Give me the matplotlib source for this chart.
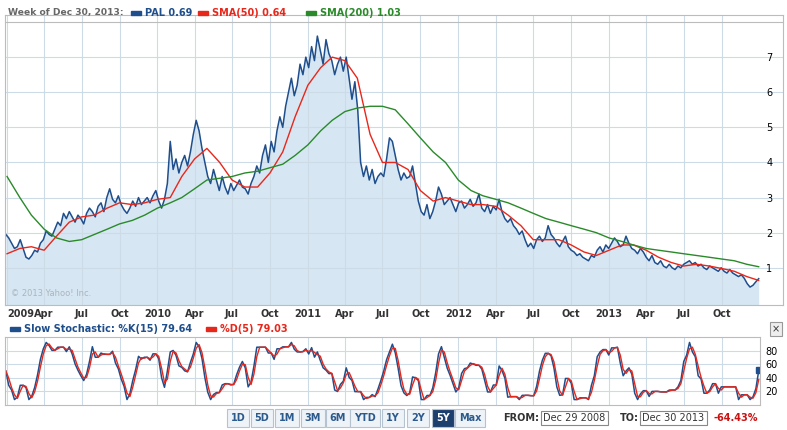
import matplotlib
matplotlib.use("Agg")
import matplotlib.pyplot as plt
import numpy as np
import pandas as pd

# weekly closes, Dec 29 2008 .. Dec 2013
price = [
    1.95, 1.85, 1.70, 1.55, 1.60, 1.80, 1.55, 1.30, 1.25, 1.35, 1.50, 1.45, 1.70,
    1.80, 2.05, 1.95, 1.90, 2.10, 2.30, 2.20, 2.55, 2.40, 2.60, 2.45, 2.30, 2.50,
    2.40, 2.25, 2.55, 2.70, 2.60, 2.45, 2.75, 2.85, 2.60, 3.00, 3.25, 2.95, 2.85,
    3.05, 2.80, 2.65, 2.55, 2.70, 2.90, 2.75, 3.00, 2.80, 2.90, 3.00, 2.85, 3.05,
    3.20, 2.90, 2.70, 2.95, 3.40, 4.60, 3.80, 4.10, 3.70, 4.00, 4.20, 3.90, 4.30,
    4.80, 5.20, 4.90, 4.40, 4.00, 3.60, 3.40, 3.80, 3.50, 3.20, 3.60, 3.30, 3.10,
    3.40, 3.20, 3.35, 3.50, 3.30, 3.25, 3.10, 3.40, 3.60, 3.90, 3.70, 4.20, 4.50,
    4.00, 4.60, 4.30, 4.90, 5.30, 5.00, 5.60, 6.00, 6.40, 5.90, 6.20, 6.80, 6.50,
    7.00, 6.70, 7.30, 6.90, 7.60, 7.20, 6.80, 7.50, 7.10, 6.90, 6.50, 6.80, 7.00,
    6.60, 7.00, 6.40, 5.80, 6.30, 5.50, 4.00, 3.60, 3.90, 3.50, 3.80, 3.40, 3.60, 3.70,
    3.60, 4.10, 4.70, 4.60, 4.20, 3.80, 3.50, 3.70, 3.55, 3.60, 3.90, 3.40, 2.90, 2.60,
    2.50, 2.80, 2.40, 2.60, 2.90, 3.30, 3.10, 2.80, 2.90, 3.00, 2.80, 2.60, 2.85,
    2.90, 2.70, 2.80, 2.95, 2.75, 2.85, 3.10, 2.70, 2.60, 2.80, 2.55, 2.75, 2.65,
    2.95, 2.60, 2.40, 2.30, 2.40, 2.20, 2.10, 1.95, 2.05, 1.80, 1.60, 1.70, 1.55,
    1.80, 1.90, 1.75, 1.85, 2.20, 1.95, 1.85, 1.70, 1.60, 1.75, 1.90, 1.60, 1.50,
    1.45, 1.35, 1.40, 1.30, 1.25, 1.20, 1.35, 1.30, 1.50, 1.60, 1.45, 1.65, 1.55,
    1.70, 1.85, 1.75, 1.60, 1.65, 1.90, 1.70, 1.55, 1.50, 1.40, 1.55, 1.45,
    1.30, 1.20, 1.35, 1.15, 1.10, 1.20, 1.05, 1.00, 1.10, 1.00, 0.95, 1.05, 1.00,
    1.10, 1.15, 1.20, 1.10, 1.15, 1.05, 1.10, 1.00, 0.95, 1.05, 1.00, 0.95, 0.90,
    1.00, 0.90, 0.85, 0.95, 0.85, 0.80, 0.75, 0.80, 0.70, 0.55, 0.45, 0.50, 0.60, 0.69,
]

# monthly readings of the moving averages (plus last point)
sma50 = [1.40, 1.55, 1.60, 1.50, 1.90, 2.30, 2.45, 2.50, 2.70, 2.85, 2.80, 2.85,
         2.95, 3.00, 3.60, 4.10, 4.40, 4.00, 3.50, 3.30, 3.30, 3.70, 4.30, 5.30,
         6.20, 6.70, 7.00, 6.90, 6.40, 4.80, 4.00, 4.00, 3.80, 3.20, 2.90, 3.00,
         2.90, 2.80, 2.80, 2.75, 2.50, 2.20, 1.80, 1.80, 1.80, 1.65, 1.45, 1.35,
         1.50, 1.65, 1.65, 1.50, 1.30, 1.15, 1.05, 1.10, 1.05, 0.98, 0.90, 0.75, 0.64]
sma200 = [3.60, 3.00, 2.50, 2.10, 1.85, 1.75, 1.80, 1.95, 2.10, 2.25, 2.35, 2.50,
          2.70, 2.85, 3.00, 3.25, 3.50, 3.55, 3.60, 3.70, 3.75, 3.85, 3.95, 4.20,
          4.50, 4.90, 5.20, 5.45, 5.55, 5.60, 5.60, 5.50, 5.10, 4.70, 4.30, 4.00,
          3.50, 3.20, 3.05, 2.95, 2.85, 2.70, 2.55, 2.40, 2.30, 2.20, 2.10, 2.00,
          1.85, 1.75, 1.65, 1.55, 1.50, 1.45, 1.40, 1.35, 1.30, 1.25, 1.20, 1.10, 1.03]

BLUE = "#1f4e8c"
RED = "#e8271b"
GREEN = "#2a8a2a"
GRID = "#cddbe7"

dates = pd.date_range("2008-12-29", periods=len(price), freq="W-MON")
mdates_ = list(pd.date_range("2009-01-01", periods=60, freq="MS")) + [pd.Timestamp("2013-12-30")]
p = np.array(price)

# slow stochastic from closes (short window, weekly data)
n = len(p)
fast = np.zeros(n)
for i in range(n):
    w = p[max(0, i - 5):i + 1]
    rng = w.max() - w.min()
    fast[i] = 50 if rng == 0 else (p[i] - w.min()) / rng * 100
k = pd.Series(fast).rolling(3, min_periods=1).mean().values
k = 8 + k * 0.84
d = pd.Series(k).rolling(2, min_periods=1).mean().values

W, H = 787, 430
fig = plt.figure(figsize=(W / 100, H / 100), dpi=100)
plt.rcParams["font.family"] = "DejaVu Sans"
FS = 7

x0 = dates[0] - pd.Timedelta(days=2)
x1 = dates[-1] + pd.Timedelta(days=7 * 8 + 3)

ax = fig.add_axes([5 / W, 1 - 305 / H, 778 / W, 290 / H])
ax.fill_between(dates, p, -1, color="#d6e7f3", lw=0)
ax.plot(dates, p, color=BLUE, lw=1.1)
ax.plot(mdates_, sma50, color=RED, lw=1)
ax.plot(mdates_, sma200, color=GREEN, lw=1)
ax.set_xlim(x0, x1)
ax.set_ylim(-0.06, 8.2)
qticks = pd.date_range("2009-01-01", "2013-10-01", freq="QS")
ax.set_xticks(qticks)
ax.set_xticklabels([str(t.year) if t.month == 1 else t.strftime("%b") for t in qticks],
                   fontsize=FS, fontweight="bold", color="#333333")
ax.get_xticklabels()[0].set_ha("left")
ax.set_yticks(range(1, 8))
ax.yaxis.tick_right()
ax.tick_params(axis="y", direction="in", pad=-12, labelsize=FS, length=0)
ax.tick_params(axis="x", length=0, pad=3)
ax.grid(True, color=GRID, lw=0.8)
for s in ax.spines.values():
    s.set_color("#bcbcbc")
ax.text(0.008, 0.03, "\u00a9 2013 Yahoo! Inc.", transform=ax.transAxes, fontsize=6, color="#aab4bd")

# stochastic panel
ax2 = fig.add_axes([5 / W, 1 - 405 / H, 755 / W, 68 / H])
ax2.plot(dates, k, color=BLUE, lw=1.1)
ax2.plot(dates, d, color=RED, lw=1)
ax2.plot(dates[-1], k[-1], "s", color=BLUE, ms=4)
ax2.set_xlim(x0, dates[-1] + pd.Timedelta(days=3))
ax2.set_ylim(0, 100)
ax2.set_xticks(qticks)
ax2.set_xticklabels([])
ax2.set_yticks([20, 40, 60, 80])
ax2.yaxis.tick_right()
ax2.tick_params(length=0, labelsize=FS, pad=4)
ax2.grid(True, color=GRID, lw=0.8)
for s in ax2.spines.values():
    s.set_color("#bcbcbc")


def fx(x):
    return x / W


def fy(y):
    return 1 - y / H


# header legend
fig.text(fx(8), fy(13), "Week of Dec 30, 2013:", fontsize=6.6, fontweight="bold", color="#666666", va="center")
for xx, label, col in [(131, "PAL 0.69", BLUE), (198, "SMA(50) 0.64", RED), (306, "SMA(200) 1.03", GREEN)]:
    fig.patches.append(plt.Rectangle((fx(xx), fy(15)), 10 / W, 4 / H, color=col, transform=fig.transFigure))
    fig.text(fx(xx + 14), fy(13), label, fontsize=FS, fontweight="bold", color=col, va="center")
fig.add_artist(plt.Line2D([fx(5), fx(783)], [fy(22), fy(22)], color="#bcbcbc", lw=0.8))

for xx, label, col in [(10, "Slow Stochastic: %K(15) 79.64", BLUE), (206, "%D(5) 79.03", RED)]:
    fig.patches.append(plt.Rectangle((fx(xx), fy(331)), 10 / W, 4 / H, color=col, transform=fig.transFigure))
    fig.text(fx(xx + 14), fy(329), label, fontsize=FS, fontweight="bold", color=col, va="center")
fig.text(fx(776), fy(329), "\u00d7", fontsize=FS, ha="center", va="center", color="#333333",
         bbox=dict(boxstyle="square,pad=0.2", fc="#eeeeee", ec="#999999", lw=0.8))

# range buttons
buttons = ["1D", "5D", "1M", "3M", "6M", "YTD", "1Y", "2Y", "5Y", "Max"]
bx = [238, 262, 287, 313, 338, 365, 393, 418, 443, 470]
for xx, b in zip(bx, buttons):
    sel = b == "5Y"
    fig.text(fx(xx), fy(418), b, fontsize=FS, fontweight="bold", ha="center", va="center",
             color="white" if sel else "#2c5a8c",
             bbox=dict(boxstyle="square,pad=0.4", fc="#1d3f6e" if sel else "#eef3f8", ec="#b5c3d1", lw=0.8))
fig.text(fx(503), fy(418), "FROM:", fontsize=FS, fontweight="bold", va="center", color="#333333")
fig.text(fx(543), fy(418), "Dec 29 2008", fontsize=FS, va="center", color="#333333",
         bbox=dict(boxstyle="square,pad=0.25", fc="white", ec="#888888", lw=0.8))
fig.text(fx(620), fy(418), "TO:", fontsize=FS, fontweight="bold", va="center", color="#333333")
fig.text(fx(642), fy(418), "Dec 30 2013", fontsize=FS, va="center", color="#333333",
         bbox=dict(boxstyle="square,pad=0.25", fc="white", ec="#888888", lw=0.8))
fig.text(fx(758), fy(418), "-64.43%", fontsize=FS, fontweight="bold", va="center", ha="right", color="#cc1111")

fig.savefig("out.png", dpi=100)
